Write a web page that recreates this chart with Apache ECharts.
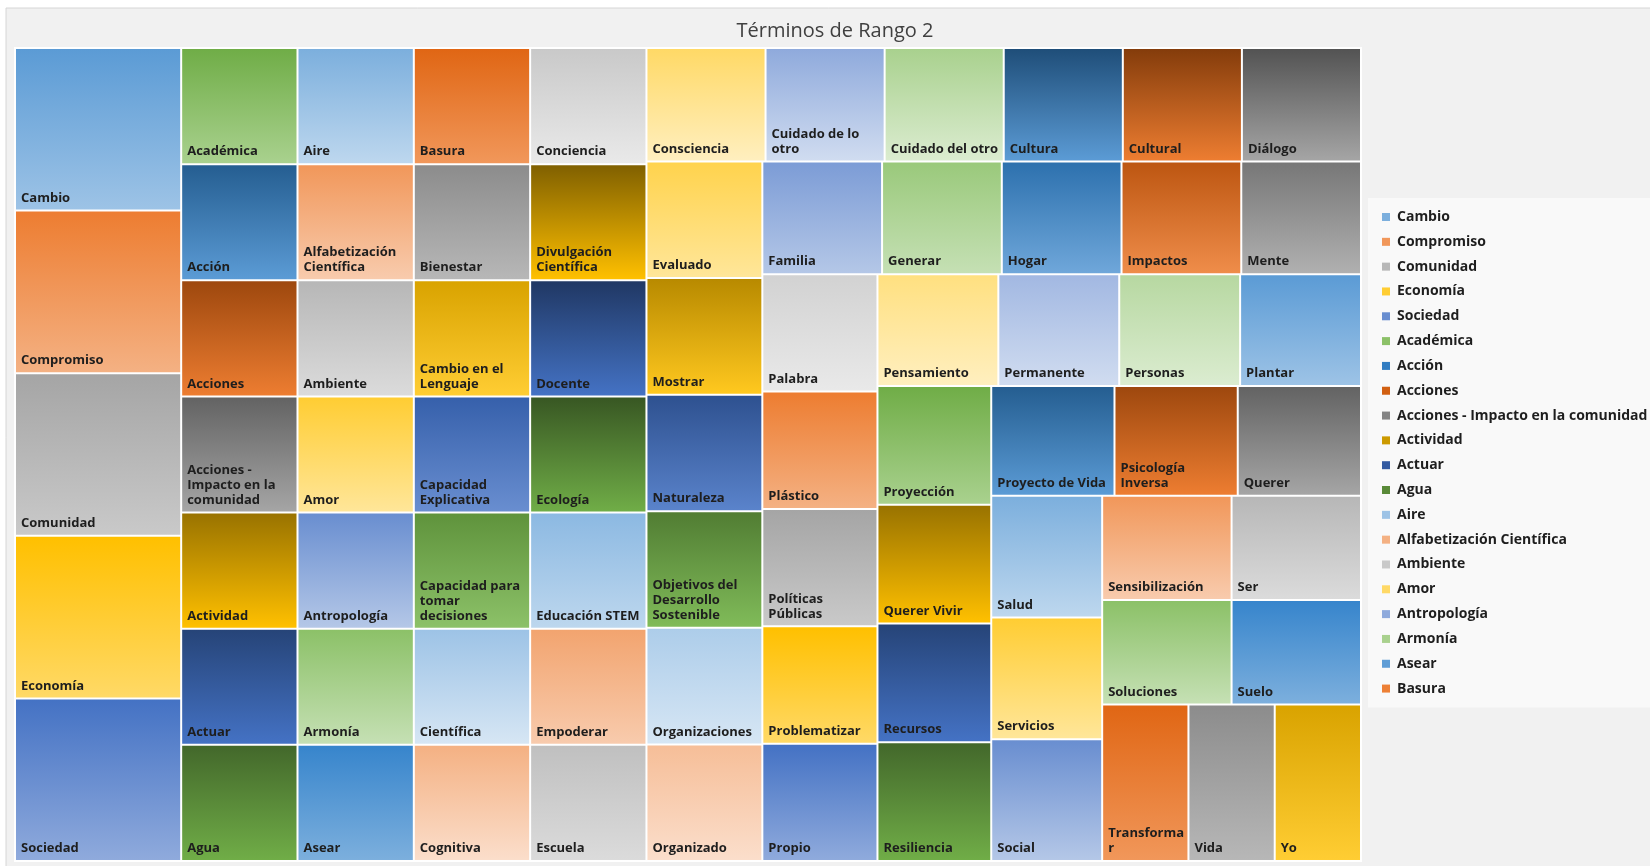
<!DOCTYPE html>
<html>
<head>
<meta charset="utf-8">
<title>Términos de Rango 2</title>
<script src="https://cdn.jsdelivr.net/npm/echarts@6/dist/echarts.min.js"></script>
<style>
  html, body { margin: 0; padding: 0; background: #ffffff; }
  #chart { width: 1650px; height: 866px; }
</style>
</head>
<body>
<div id="chart"></div>
<script>
// ---- data ----
const chartTitle = 'Términos de Rango 2';

// category list (legend / colour order)
const terms = [
  'Cambio', 'Compromiso', 'Comunidad', 'Economía', 'Sociedad',
  'Académica', 'Acción', 'Acciones', 'Acciones - Impacto en la comunidad', 'Actividad',
  'Actuar', 'Agua', 'Aire', 'Alfabetización Científica', 'Ambiente',
  'Amor', 'Antropología', 'Armonía', 'Asear', 'Basura',
  'Bienestar', 'Cambio en el Lenguaje', 'Capacidad Explicativa', 'Capacidad para tomar decisiones', 'Científica',
  'Cognitiva', 'Conciencia', 'Consciencia', 'Cuidado de lo otro', 'Cuidado del otro',
  'Cultura', 'Cultural', 'Diálogo', 'Divulgación Científica', 'Docente',
  'Ecología', 'Educación STEM', 'Empoderar', 'Escuela', 'Evaluado',
  'Familia', 'Generar', 'Hogar', 'Impactos', 'Mente',
  'Mostrar', 'Naturaleza', 'Objetivos del Desarrollo Sostenible', 'Organizaciones', 'Organizado',
  'Palabra', 'Pensamiento', 'Permanente', 'Personas', 'Plantar',
  'Plástico', 'Políticas Públicas', 'Problematizar', 'Propio', 'Proyección',
  'Proyecto de Vida', 'Psicología Inversa', 'Querer', 'Querer Vivir', 'Recursos',
  'Resiliencia', 'Salud', 'Sensibilización', 'Ser', 'Servicios',
  'Social', 'Soluciones', 'Suelo', 'Transformar', 'Vida',
  'Yo'
];

const counts = [
  2, 2, 2, 2, 2,
  1, 1, 1, 1, 1,
  1, 1, 1, 1, 1,
  1, 1, 1, 1, 1,
  1, 1, 1, 1, 1,
  1, 1, 1, 1, 1,
  1, 1, 1, 1, 1,
  1, 1, 1, 1, 1,
  1, 1, 1, 1, 1,
  1, 1, 1, 1, 1,
  1, 1, 1, 1, 1,
  1, 1, 1, 1, 1,
  1, 1, 1, 1, 1,
  1, 1, 1, 1, 1,
  1, 1, 1, 1, 1,
  1
];

// order in which the tiles are fed to the treemap
const tileOrder = [
  'Cambio', 'Compromiso', 'Comunidad', 'Economía', 'Sociedad',
  'Académica', 'Acción', 'Acciones', 'Acciones - Impacto en la comunidad', 'Actividad', 'Actuar', 'Agua',
  'Aire', 'Alfabetización Científica', 'Ambiente', 'Amor', 'Antropología', 'Armonía', 'Asear',
  'Basura', 'Bienestar', 'Cambio en el Lenguaje', 'Capacidad Explicativa', 'Capacidad para tomar decisiones', 'Científica', 'Cognitiva',
  'Conciencia', 'Divulgación Científica', 'Docente', 'Ecología', 'Educación STEM', 'Empoderar', 'Escuela',
  'Consciencia', 'Cuidado de lo otro', 'Cuidado del otro', 'Cultura', 'Cultural', 'Diálogo',
  'Evaluado', 'Mostrar', 'Naturaleza', 'Objetivos del Desarrollo Sostenible', 'Organizaciones', 'Organizado',
  'Familia', 'Generar', 'Hogar', 'Impactos', 'Mente',
  'Palabra', 'Plástico', 'Políticas Públicas', 'Problematizar', 'Propio',
  'Pensamiento', 'Permanente', 'Personas', 'Plantar',
  'Proyección', 'Querer Vivir', 'Recursos', 'Resiliencia',
  'Proyecto de Vida', 'Psicología Inversa', 'Querer',
  'Salud', 'Servicios', 'Social',
  'Sensibilización', 'Ser',
  'Soluciones', 'Suelo',
  'Transformar', 'Vida', 'Yo'
];

// the legend lists only the first entries
const legendNames = terms.slice(0, 20);

// ---- palette ----
const officeAccents = ['#5B9BD5', '#ED7D31', '#A5A5A5', '#FFC000', '#4472C4', '#70AD47'];
// [top, bottom] luminance shift of each shade pass: negative darkens, positive lightens
const shadeSteps = [
  [0, 0.4], [-0.4, 0], [0.2, 0.6], [-0.15, 0.2], [0.4, 0.75],
  [-0.5, 0], [0.3, 0.6], [-0.28, 0.12], [0.5, 0.75]
];

function hexToHsl(hex) {
  const n = parseInt(hex.slice(1), 16);
  const r = ((n >> 16) & 255) / 255, g = ((n >> 8) & 255) / 255, b = (n & 255) / 255;
  const max = Math.max(r, g, b), min = Math.min(r, g, b);
  const l = (max + min) / 2;
  let h = 0, s = 0;
  if (max !== min) {
    const d = max - min;
    s = l > 0.5 ? d / (2 - max - min) : d / (max + min);
    if (max === r) h = (g - b) / d + (g < b ? 6 : 0);
    else if (max === g) h = (b - r) / d + 2;
    else h = (r - g) / d + 4;
    h /= 6;
  }
  return [h, s, l];
}

function hslToHex(h, s, l) {
  function hue(p, q, t) {
    if (t < 0) t += 1;
    if (t > 1) t -= 1;
    if (t < 1 / 6) return p + (q - p) * 6 * t;
    if (t < 1 / 2) return q;
    if (t < 2 / 3) return p + (q - p) * (2 / 3 - t) * 6;
    return p;
  }
  let r, g, b;
  if (s === 0) { r = g = b = l; }
  else {
    const q = l < 0.5 ? l * (1 + s) : l + s - l * s;
    const p = 2 * l - q;
    r = hue(p, q, h + 1 / 3); g = hue(p, q, h); b = hue(p, q, h - 1 / 3);
  }
  const to = v => Math.round(v * 255).toString(16).padStart(2, '0');
  return '#' + to(r) + to(g) + to(b);
}

function shiftLum(hex, t) {
  const [h, s, l] = hexToHsl(hex);
  const l2 = t < 0 ? l * (1 + t) : l + (1 - l) * t;
  return hslToHex(h, s, Math.min(1, Math.max(0, l2)));
}

function tileColors(i) {
  const base = officeAccents[i % officeAccents.length];
  const step = shadeSteps[Math.floor(i / officeAccents.length) % shadeSteps.length];
  return {
    top: shiftLum(base, step[0]),
    bottom: shiftLum(base, step[1]),
    mid: shiftLum(base, (step[0] + step[1]) / 2)
  };
}

// ---- series data ----
const treeData = tileOrder.map(name => {
  const i = terms.indexOf(name);
  const c = tileColors(i);
  return {
    name: name,
    value: counts[i],
    itemStyle: {
      color: new echarts.graphic.LinearGradient(0, 0, 0, 1, [
        { offset: 0, color: c.top },
        { offset: 1, color: c.bottom }
      ])
    }
  };
});

// legend swatches come from a zero-radius pie carrying the same names
const legendSource = legendNames.map(name => {
  const i = terms.indexOf(name);
  return { name: name, value: counts[i], itemStyle: { color: tileColors(i).mid } };
});

const chart = echarts.init(document.getElementById('chart'), null, { renderer: 'canvas' });

chart.setOption({
  animation: false,
  backgroundColor: '#ffffff',
  graphic: [{
    type: 'rect',
    silent: true,
    z: -10,
    shape: { x: 6, y: 8, width: 1660, height: 870 },
    style: { fill: '#f1f1f1', stroke: '#d6d6d6', lineWidth: 1 }
  }],
  title: {
    text: chartTitle,
    left: 830,
    top: 16,
    padding: 5,
    textAlign: 'center',
    textStyle: {
      fontFamily: 'Open Sans',
      fontWeight: 'normal',
      fontSize: 20,
      color: '#404040'
    }
  },
  legend: {
    orient: 'vertical',
    left: 1368,
    top: 198,
    padding: [11, 8, 11, 14],
    backgroundColor: '#f9f9f9',
    icon: 'rect',
    itemWidth: 8,
    itemHeight: 8,
    itemGap: 8.82,
    selectedMode: false,
    data: legendNames,
    textStyle: {
      fontFamily: 'Open Sans',
      fontWeight: 'bold',
      fontSize: 14,
      lineHeight: 16,
      padding: [0, 0, 0, 2],
      color: '#1e1e1e'
    }
  },
  series: [
    {
      type: 'treemap',
      left: 14,
      top: 47,
      width: 1348,
      height: 815,
      roam: false,
      nodeClick: false,
      sort: false,
      squareRatio: 1,
      breadcrumb: { show: false },
      label: {
        show: true,
        position: 'insideBottomLeft',
        distance: 0,
        padding: [4, 0, 4, 5],
        overflow: 'break',
        fontFamily: 'Open Sans',
        fontWeight: 'bold',
        fontSize: 13,
        lineHeight: 15,
        color: '#1e1e1e'
      },
      itemStyle: { borderWidth: 0 },
      levels: [
        { itemStyle: { borderWidth: 2, gapWidth: 2, borderColor: '#ffffff' } },
        { itemStyle: { borderWidth: 0 } }
      ],
      emphasis: { disabled: true },
      data: treeData
    },
    {
      type: 'pie',
      silent: true,
      radius: [0, 0],
      center: [-100, -100],
      label: { show: false },
      labelLine: { show: false },
      itemStyle: { borderWidth: 0 },
      data: legendSource
    }
  ]
});
</script>
</body>
</html>
